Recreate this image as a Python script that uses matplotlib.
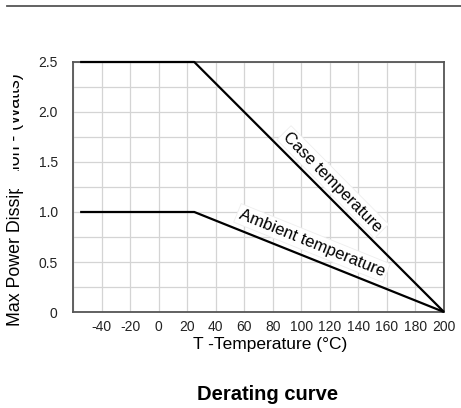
import matplotlib
matplotlib.use("Agg")
import matplotlib.pyplot as plt
from matplotlib.patches import Rectangle
from matplotlib.lines import Line2D

plt.rcParams['font.family'] = ['Liberation Sans', 'DejaVu Sans']
plt.rcParams['axes.unicode_minus'] = False

# Data
case_temp = [-55, 25, 200]
case_power = [2.5, 2.5, 0.0]
amb_temp = [-55, 25, 200]
amb_power = [1.0, 1.0, 0.0]
xticks = [-40, -20, 0, 20, 40, 60, 80, 100, 120, 140, 160, 180, 200]
yticks = [0, 0.5, 1.0, 1.5, 2.0, 2.5]
ytick_labels = ["0", "0.5", "1.0", "1.5", "2.0", "2.5"]

W, H = 461, 408
fig = plt.figure(figsize=(W / 100, H / 100), dpi=100)
ax = fig.add_axes([73 / W, 1 - 312 / H, (444 - 73) / W, (312 - 62) / H])

ax.set_xlim(-60, 200)
ax.set_ylim(0, 2.5)
ax.set_xticks(xticks)
ax.set_yticks(yticks)
ax.set_yticklabels(ytick_labels)
ax.set_yticks([0.25, 0.75, 1.25, 1.75, 2.25], minor=True)
ax.set_xticks([-60], minor=True)
ax.grid(True, which='both', color='#d4d4d4', linewidth=0.9)
ax.set_axisbelow(True)
ax.tick_params(which='both', length=0)
ax.tick_params(axis='x', pad=6, labelsize=10, colors='#222222')
ax.tick_params(axis='y', pad=11, labelsize=10, colors='#222222')
for s in ax.spines.values():
    s.set_color('#555555')
    s.set_linewidth(1.3)

ax.plot(case_temp, case_power, color='black', linewidth=1.6, solid_capstyle='butt',
        zorder=4, clip_on=False)
ax.plot(amb_temp, amb_power, color='black', linewidth=1.6, solid_capstyle='butt',
        zorder=4, clip_on=False)

bbox = dict(boxstyle='square,pad=0.15', facecolor='white', edgecolor='#eeeeee', linewidth=0.6)
ax.text(122, 1.30, "Case temperature", rotation=-45.3, rotation_mode='anchor',
        ha='center', va='center', fontsize=12, bbox=bbox, zorder=5)
ax.text(107.5, 0.69, "Ambient temperature", rotation=-22, rotation_mode='anchor',
        ha='center', va='center', fontsize=12, bbox=bbox, zorder=5)

# Axis labels and title
fig.text(270 / W, 1 - 345 / H, "T -Temperature (°C)", ha='center', va='center', fontsize=12.5)
fig.text(16 / W, 1 - 200 / H, "Max Power Dissipation - (Watts)", rotation=90,
         ha='center', va='center', fontsize=12.8)
fig.text(268 / W, 1 - 395 / H, "Derating curve", ha='center', va='center',
         fontsize=14.5, fontweight='bold')

# Clipped part of y label (as in the reference)
fig.patches.append(Rectangle((0, 1 - 189 / H), 13 / W, 130 / H, transform=fig.transFigure,
                             facecolor='white', edgecolor='none', zorder=10))
fig.patches.append(Rectangle((0, 1 - 189 / H), 27 / W, 18 / H, transform=fig.transFigure,
                             facecolor='white', edgecolor='none', zorder=10))

# Top rule
fig.lines.append(Line2D([7 / W, 1], [1 - 6 / H, 1 - 6 / H], transform=fig.transFigure,
                        color='#555555', linewidth=1.3))

fig.savefig("out.png", dpi=100)
